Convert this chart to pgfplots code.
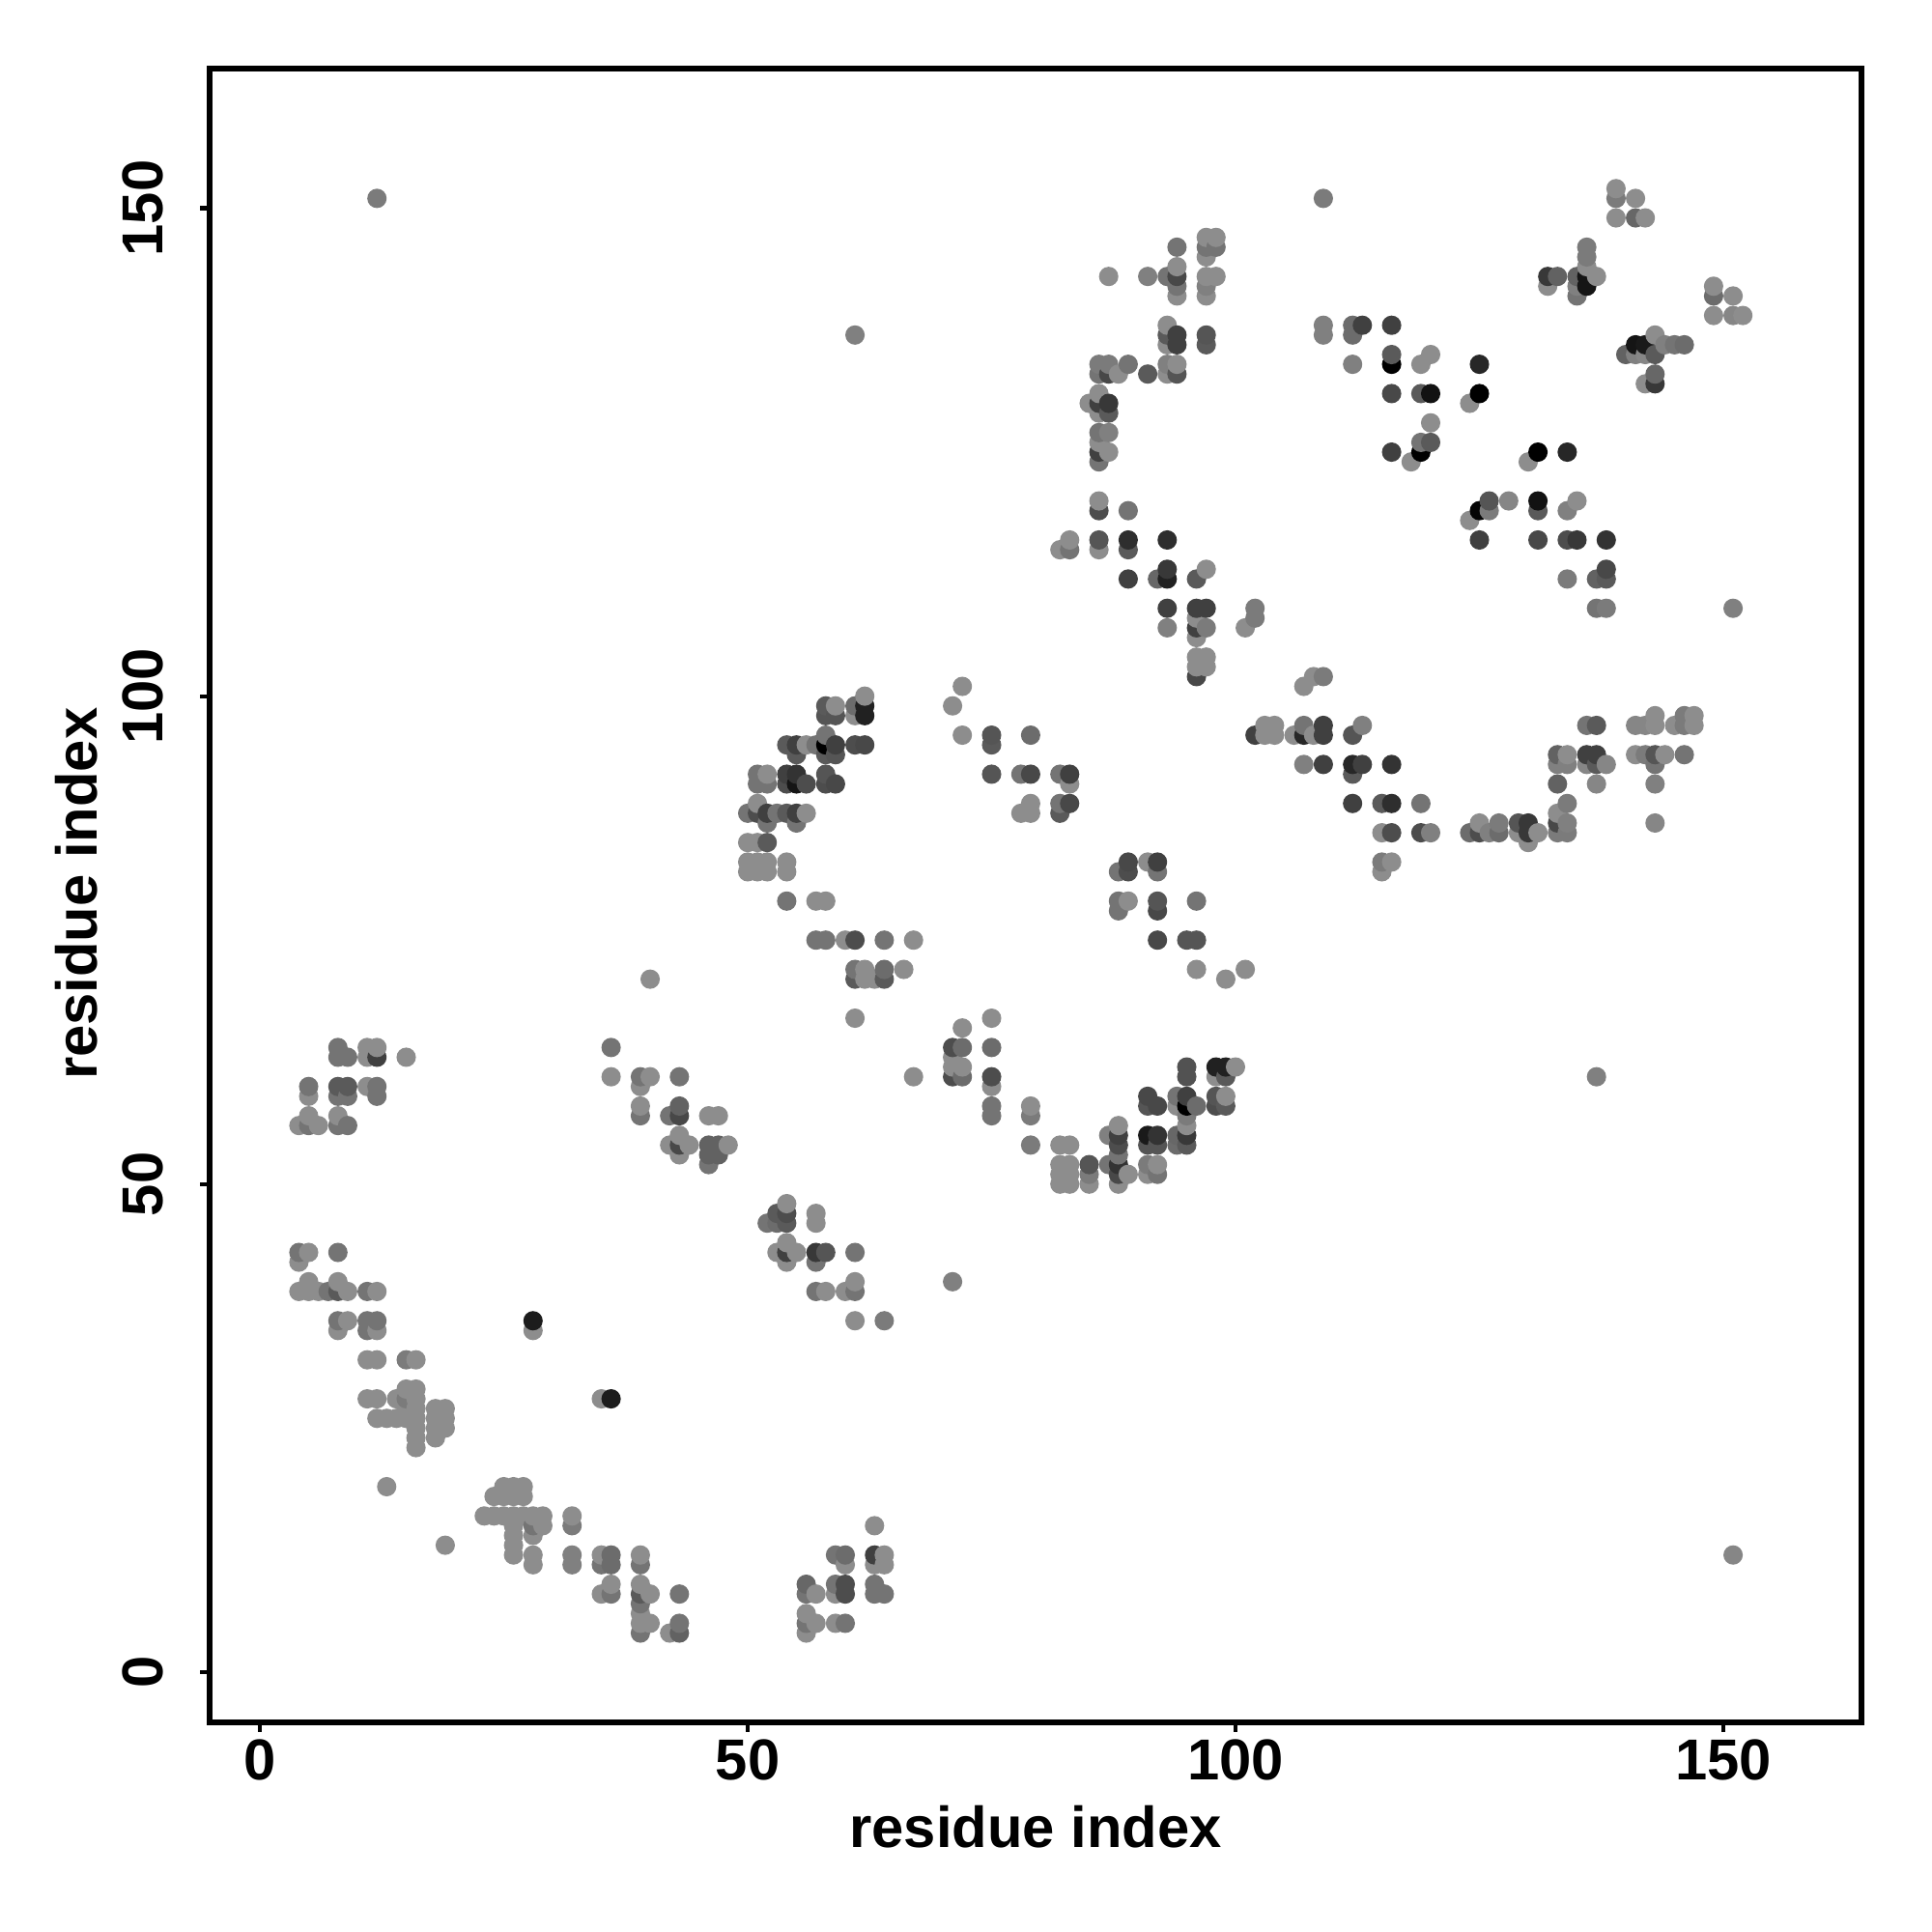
\documentclass[border=0pt]{standalone}
\usepackage{pgfplots}
\pgfplotsset{compat=1.18}
\usepackage{fontspec}
\setmainfont{Liberation Sans}
\newcommand{\lab}{\fontsize{17}{20}\selectfont\bfseries}
\begin{document}
\begin{tikzpicture}
\path[use as bounding box] (0,0) rectangle (20,20);
\begin{axis}[at={(2.17cm,2.17cm)},anchor=south west,scale only axis,width=17.10cm,height=17.12cm,
 xmin=-5.15,xmax=164.16,ymin=-5.15,ymax=164.3,
 axis line style={line width=1.55pt},
 tick style={line width=1.2pt,black},tick align=outside,tick pos=left,major tick length=2.8pt,
 xtick={0,50,100,150},ytick={0,50,100,150},
 /pgf/number format/assume math mode=true,
 tick label style={font=\lab},
 xticklabel style={yshift=1.2pt},
 yticklabel style={rotate=90,anchor=south,yshift=7.3pt},
 xlabel={residue index},ylabel={residue index},
 xlabel style={font=\lab,at={(axis description cs:0.5,-0.063)},anchor=center},
 ylabel style={font=\lab,at={(axis description cs:-0.0807,0.501)},anchor=center,rotate=0},
 colormap={gr}{gray(0cm)=(0);gray(100cm)=(1)},
 point meta min=0,point meta max=100,
 clip=true]
\addplot[only marks,mark=*,mark size=2.65pt,scatter,scatter src=explicit,
 scatter/use mapped color={draw=mapped color,fill=mapped color}]
 table[x=x,y=y,meta=g,row sep=\\]{
x y g\\
4 39 55\\ 4 42 55\\ 4 43 45\\ 4 56 55\\
5 39 55\\ 5 40 55\\ 5 43 55\\ 5 56 45\\ 5 57 55\\ 5 59 55\\ 5 60 45\\
6 39 55\\ 6 56 55\\
7 39 45\\
8 35 55\\ 8 36 45\\ 8 39 35\\ 8 40 55\\ 8 43 45\\ 8 56 45\\ 8 57 55\\ 8 59 45\\ 8 60 35\\ 8 63 45\\ 8 64 45\\
9 36 55\\ 9 39 55\\ 9 56 45\\ 9 59 45\\ 9 60 35\\ 9 63 45\\
11 28 55\\ 11 32 55\\ 11 35 45\\ 11 36 45\\ 11 39 45\\ 11 60 55\\ 11 63 55\\ 11 64 55\\
12 26 55\\ 12 28 55\\ 12 32 55\\ 12 35 55\\ 12 36 45\\ 12 39 55\\ 12 59 45\\ 12 60 45\\ 12 63 25\\ 12 64 55\\ 12 151 48\\
13 19 55\\ 13 26 55\\
14 26 55\\ 14 28 55\\
15 26 55\\ 15 27 55\\ 15 28 48\\ 15 29 55\\ 15 32 48\\ 15 63 55\\
16 23 55\\ 16 24 55\\ 16 25 55\\ 16 26 55\\ 16 27 55\\ 16 28 55\\ 16 29 55\\ 16 32 55\\
18 24 55\\ 18 25 55\\ 18 26 55\\ 18 27 55\\
19 13 55\\ 19 25 55\\ 19 26 55\\ 19 27 55\\
23 16 55\\
24 16 55\\ 24 18 55\\
25 16 55\\ 25 18 55\\ 25 19 55\\
26 12 55\\ 26 13 55\\ 26 14 55\\ 26 15 55\\ 26 16 55\\ 26 18 55\\ 26 19 55\\
27 16 55\\ 27 18 55\\ 27 19 55\\
28 11 55\\ 28 12 55\\ 28 14 55\\ 28 15 45\\ 28 16 55\\ 28 35 55\\ 28 36 11\\
29 15 55\\ 29 16 55\\
32 11 50\\ 32 12 50\\ 32 15 48\\ 32 16 55\\
35 8 55\\ 35 11 45\\ 35 12 55\\ 35 28 55\\
36 8 45\\ 36 9 55\\ 36 11 42\\ 36 12 42\\ 36 28 11\\ 36 61 55\\ 36 64 45\\
39 4 45\\ 39 5 55\\ 39 6 55\\ 39 7 45\\ 39 8 35\\ 39 9 55\\ 39 11 45\\ 39 12 55\\ 39 57 45\\ 39 58 55\\ 39 60 55\\ 39 61 45\\
40 5 55\\ 40 8 55\\ 40 61 55\\ 40 71 55\\
42 4 55\\ 42 54 55\\ 42 57 45\\
43 4 38\\ 43 5 45\\ 43 8 45\\ 43 53 55\\ 43 54 28\\ 43 55 55\\ 43 57 28\\ 43 58 38\\ 43 61 45\\
44 54 55\\
46 52 45\\ 46 53 38\\ 46 54 38\\ 46 57 55\\
47 53 38\\ 47 54 38\\ 47 57 55\\
48 54 55\\
50 82 55\\ 50 83 55\\ 50 85 55\\ 50 88 45\\
51 82 55\\ 51 83 55\\ 51 85 55\\ 51 88 30\\ 51 89 55\\ 51 91 45\\ 51 92 45\\
52 46 45\\ 52 82 55\\ 52 83 55\\ 52 85 35\\ 52 87 45\\ 52 88 25\\ 52 91 45\\ 52 92 55\\
53 43 55\\ 53 46 42\\ 53 47 35\\ 53 88 45\\
54 42 55\\ 54 43 25\\ 54 44 55\\ 54 46 35\\ 54 47 30\\ 54 48 55\\ 54 79 45\\ 54 82 55\\ 54 83 55\\ 54 88 35\\ 54 91 30\\ 54 92 25\\ 54 95 35\\
55 43 55\\ 55 87 45\\ 55 88 25\\ 55 91 8\\ 55 92 20\\ 55 94 35\\ 55 95 25\\
56 4 55\\ 56 5 45\\ 56 6 55\\ 56 8 45\\ 56 9 40\\ 56 88 55\\ 56 91 30\\ 56 95 55\\
57 5 55\\ 57 8 55\\ 57 39 45\\ 57 42 45\\ 57 43 22\\ 57 46 55\\ 57 47 55\\ 57 75 45\\ 57 79 55\\ 57 95 45\\
58 39 55\\ 58 43 33\\ 58 75 45\\ 58 79 55\\ 58 91 30\\ 58 92 33\\ 58 94 35\\ 58 95 0\\ 58 96 45\\ 58 98 33\\ 58 99 35\\
59 5 55\\ 59 8 55\\ 59 9 45\\ 59 12 45\\ 59 91 28\\ 59 94 33\\ 59 95 25\\ 59 98 33\\ 59 99 55\\
60 5 45\\ 60 8 30\\ 60 9 30\\ 60 11 55\\ 60 12 42\\ 60 39 55\\ 60 75 55\\
61 36 55\\ 61 39 45\\ 61 40 55\\ 61 43 45\\ 61 67 55\\ 61 71 35\\ 61 72 45\\ 61 75 30\\ 61 95 30\\ 61 98 55\\ 61 99 42\\ 61 137 50\\
62 71 55\\ 62 72 55\\ 62 95 28\\ 62 98 13\\ 62 99 13\\ 62 100 55\\
63 8 45\\ 63 9 45\\ 63 11 55\\ 63 12 25\\ 63 15 55\\ 63 71 55\\
64 8 45\\ 64 11 55\\ 64 12 55\\ 64 36 48\\ 64 71 35\\ 64 72 42\\ 64 75 45\\
66 72 55\\
67 61 55\\ 67 75 55\\
71 40 50\\ 71 61 30\\ 71 62 55\\ 71 63 55\\ 71 64 30\\ 71 99 55\\
72 61 42\\ 72 62 55\\ 72 64 42\\ 72 66 55\\ 72 96 55\\ 72 101 55\\
75 57 45\\ 75 58 45\\ 75 60 55\\ 75 61 30\\ 75 64 42\\ 75 67 55\\ 75 92 33\\ 75 95 35\\ 75 96 33\\
78 88 55\\ 78 92 45\\
79 54 48\\ 79 57 48\\ 79 58 55\\ 79 88 55\\ 79 89 55\\ 79 92 28\\ 79 96 42\\
82 50 55\\ 82 51 55\\ 82 52 55\\ 82 54 55\\ 82 88 35\\ 82 89 45\\ 82 92 45\\ 82 115 55\\
83 50 55\\ 83 51 55\\ 83 52 55\\ 83 54 55\\ 83 89 28\\ 83 91 55\\ 83 92 25\\ 83 115 45\\ 83 116 55\\
85 50 55\\ 85 51 48\\ 85 52 33\\ 85 130 55\\
86 115 55\\ 86 116 33\\ 86 119 30\\ 86 120 55\\ 86 124 45\\ 86 125 25\\ 86 126 55\\ 86 127 45\\ 86 129 55\\ 86 130 25\\ 86 131 55\\ 86 133 45\\ 86 134 48\\
87 52 45\\ 87 55 50\\ 87 125 55\\ 87 127 50\\ 87 129 35\\ 87 130 22\\ 87 133 28\\ 87 134 48\\ 87 143 55\\
88 50 55\\ 88 51 28\\ 88 52 20\\ 88 53 45\\ 88 54 30\\ 88 55 25\\ 88 56 55\\ 88 78 45\\ 88 79 45\\ 88 82 45\\ 88 133 55\\
89 51 55\\ 89 79 55\\ 89 82 30\\ 89 83 28\\ 89 112 25\\ 89 115 35\\ 89 116 18\\ 89 119 45\\ 89 134 45\\
91 51 55\\ 91 52 48\\ 91 54 33\\ 91 55 10\\ 91 58 33\\ 91 59 28\\ 91 83 55\\ 91 133 35\\ 91 143 50\\
92 51 45\\ 92 52 55\\ 92 54 33\\ 92 55 20\\ 92 58 28\\ 92 75 28\\ 92 78 28\\ 92 79 33\\ 92 82 45\\ 92 83 25\\ 92 112 40\\
93 107 50\\ 93 109 25\\ 93 112 13\\ 93 113 22\\ 93 116 18\\ 93 133 55\\ 93 134 50\\ 93 136 55\\ 93 137 35\\ 93 138 55\\ 93 143 45\\
94 54 42\\ 94 55 40\\ 94 58 55\\ 94 59 45\\ 94 133 33\\ 94 134 55\\ 94 136 25\\ 94 137 25\\ 94 141 55\\ 94 142 45\\ 94 143 28\\ 94 144 55\\ 94 146 45\\
95 54 35\\ 95 55 22\\ 95 56 55\\ 95 57 48\\ 95 58 0\\ 95 59 25\\ 95 61 32\\ 95 62 32\\ 95 75 33\\
96 58 42\\ 96 72 55\\ 96 75 33\\ 96 79 45\\ 96 102 28\\ 96 103 55\\ 96 104 55\\ 96 106 55\\ 96 107 25\\ 96 108 55\\ 96 109 25\\ 96 112 35\\
97 103 55\\ 97 104 55\\ 97 107 48\\ 97 109 25\\ 97 113 55\\ 97 136 35\\ 97 137 33\\ 97 141 55\\ 97 142 50\\ 97 143 55\\ 97 145 55\\ 97 146 45\\ 97 147 55\\
98 58 30\\ 98 59 33\\ 98 61 55\\ 98 62 13\\ 98 143 55\\ 98 146 45\\ 98 147 55\\
99 58 35\\ 99 59 55\\ 99 61 35\\ 99 62 13\\ 99 71 55\\
100 62 55\\
101 72 55\\ 101 107 55\\
102 96 25\\ 102 108 48\\ 102 109 48\\
103 96 55\\ 103 97 55\\
104 96 55\\ 104 97 55\\
106 96 55\\
107 93 50\\ 107 96 15\\ 107 97 45\\ 107 101 55\\
108 96 55\\ 108 102 55\\
109 93 25\\ 109 96 25\\ 109 97 25\\ 109 102 48\\ 109 137 50\\ 109 138 50\\ 109 151 48\\
112 89 25\\ 112 92 35\\ 112 93 15\\ 112 96 33\\ 112 134 50\\ 112 137 42\\ 112 138 42\\
113 93 25\\ 113 97 50\\ 113 138 25\\
115 82 55\\ 115 83 48\\ 115 86 55\\ 115 89 35\\
116 83 55\\ 116 86 30\\ 116 89 18\\ 116 93 20\\ 116 125 25\\ 116 131 28\\ 116 134 0\\ 116 135 35\\ 116 138 25\\
118 124 55\\
119 86 30\\ 119 89 45\\ 119 125 0\\ 119 126 45\\ 119 131 35\\ 119 134 55\\
120 86 50\\ 120 126 35\\ 120 128 55\\ 120 131 7\\ 120 135 55\\
124 86 42\\ 124 118 55\\ 124 130 55\\
125 86 30\\ 125 87 55\\ 125 116 25\\ 125 119 2\\ 125 131 0\\ 125 134 15\\
126 86 50\\ 126 119 48\\ 126 120 33\\
127 86 42\\ 127 87 48\\
128 120 52\\
129 86 55\\ 129 87 33\\
130 85 55\\ 130 86 22\\ 130 87 22\\ 130 124 55\\
131 86 55\\ 131 116 28\\ 131 119 35\\ 131 120 7\\ 131 125 0\\
132 142 55\\ 132 143 22\\
133 86 48\\ 133 87 28\\ 133 88 55\\ 133 91 38\\ 133 93 50\\ 133 94 38\\ 133 143 38\\
134 86 48\\ 134 87 50\\ 134 89 48\\ 134 93 50\\ 134 94 55\\ 134 112 48\\ 134 116 30\\ 134 119 50\\ 134 125 15\\
135 116 22\\ 135 120 55\\ 135 141 45\\ 135 142 50\\ 135 143 38\\
136 93 52\\ 136 94 25\\ 136 97 45\\ 136 142 8\\ 136 143 8\\ 136 144 55\\ 136 145 48\\ 136 146 48\\
137 61 50\\ 137 91 52\\ 137 93 35\\ 137 94 25\\ 137 97 35\\ 137 109 45\\ 137 112 38\\ 137 143 55\\
138 93 52\\ 138 109 48\\ 138 112 35\\ 138 113 28\\ 138 116 20\\
139 149 55\\ 139 151 48\\ 139 152 55\\
140 135 38\\
141 94 55\\ 141 97 52\\ 141 135 50\\ 141 136 8\\ 141 149 40\\ 141 151 55\\
142 94 48\\ 142 97 52\\ 142 132 55\\ 142 135 52\\ 142 136 10\\ 142 149 55\\
143 87 52\\ 143 91 50\\ 143 93 45\\ 143 94 33\\ 143 97 55\\ 143 98 55\\ 143 132 22\\ 143 133 40\\ 143 135 35\\ 143 137 55\\
144 94 55\\ 144 136 50\\
145 97 55\\ 145 136 45\\
146 94 45\\ 146 97 48\\ 146 98 48\\ 146 136 42\\
147 97 55\\ 147 98 55\\
149 139 55\\ 149 141 42\\ 149 142 55\\
151 12 52\\ 151 109 50\\ 151 139 52\\ 151 141 55\\
152 139 55\\
};
\end{axis}
\end{tikzpicture}
\end{document}
